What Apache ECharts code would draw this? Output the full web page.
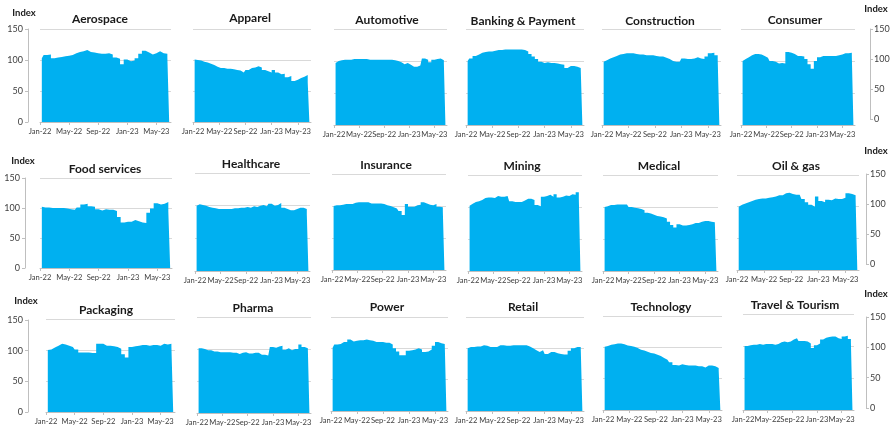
<!DOCTYPE html>
<html>
<head>
<meta charset="utf-8">
<script src="https://cdn.jsdelivr.net/npm/echarts@6/dist/echarts.min.js"></script>
<style>
html,body{margin:0;padding:0;background:#fff;}
#chart{width:895px;height:429px;}
</style>
</head>
<body>
<div id="chart"></div>
<script>
// ---------- DATA ----------
const categories = ['Aerospace','Apparel','Automotive','Banking & Payment','Construction','Consumer',
  'Food services','Healthcare','Insurance','Mining','Medical','Oil & gas',
  'Packaging','Pharma','Power','Retail','Technology','Travel & Tourism'];
// half-monthly periods, Jan-22 .. Jun-23
const xTickLabels = ['Jan-22','May-22','Sep-22','Jan-23','May-23'];
const yAxisTitle = 'Index';

const aerospace    = [103,108,109,103,104,105,106,107,108,111,113,114,116,113,112,111,110,110,111,109,104,102,93,101,98,99,103,110,115,112,109,111,114,111,110,104];
const apparel      = [101,100,99,97,96,94,92,89,87,87,86,86,85,84,83,80,84,87,88,90,88,84,82,80,84,80,77,78,72,74,66,68,71,73,76,64];
const automotive   = [97,100,101,102,102,102,103,103,103,103,103,102,102,102,102,102,102,102,102,101,100,98,95,97,94,91,91,93,104,102,98,102,103,104,101,97];
const banking      = [100,104,108,110,113,114,115,115,116,117,117,118,118,118,118,118,118,117,115,111,107,103,99,97,98,97,97,96,95,94,89,92,92,91,89,87];
const construction = [99,101,104,106,108,110,111,112,112,112,111,110,110,109,109,109,108,107,107,105,103,100,99,99,104,103,103,104,106,104,103,107,112,113,109,103];
const consumer     = [100,103,106,109,111,111,110,108,105,100,99,96,97,96,114,113,111,108,108,107,103,95,88,100,106,108,108,108,108,108,109,110,112,112,113,108];
const foodServices = [102,101,101,100,100,100,100,99,98,97,101,106,107,103,102,98,96,98,97,97,95,85,76,77,77,80,78,76,75,92,99,108,106,107,110,94];
const healthcare   = [100,102,101,100,98,97,96,95,95,95,95,95,96,96,97,97,98,97,99,98,100,101,99,103,100,101,104,97,95,93,93,95,97,97,95,87];
const insurance    = [100,101,101,102,103,103,103,105,106,106,106,106,104,104,104,104,103,101,100,98,96,92,86,103,99,99,101,102,106,104,102,101,103,99,98,92];
const mining       = [102,105,108,109,111,114,115,115,114,117,116,116,117,109,108,108,108,110,113,113,111,103,101,116,117,119,116,120,115,116,118,117,120,119,123,113];
const medical      = [100,101,103,103,104,104,104,104,100,99,98,97,95,91,90,88,86,85,84,82,77,72,68,73,71,71,72,73,75,75,77,78,78,77,76,75];
const oilGas       = [100,103,105,107,109,111,112,113,113,114,115,116,118,118,121,122,120,119,119,112,107,103,100,116,109,107,111,110,113,112,112,114,121,120,118,113];
const packaging    = [100,101,104,107,110,109,107,105,101,96,96,96,95,95,110,110,107,107,106,105,102,93,88,105,106,107,108,108,107,108,108,107,110,109,110,105];
const pharma       = [101,101,100,98,98,96,96,95,95,95,95,94,94,92,94,95,93,93,94,94,91,91,90,103,102,104,105,99,101,98,100,100,107,103,101,100];
const power        = [101,106,107,110,110,114,111,112,113,113,114,113,112,110,110,110,109,109,106,100,95,89,89,96,97,98,100,98,94,95,98,104,110,108,107,109];
const retail       = [100,102,102,103,103,105,104,102,102,102,105,105,104,104,105,105,105,105,105,103,100,97,94,97,91,94,94,92,91,90,90,96,100,102,102,104];
const technology   = [101,102,104,105,106,106,105,103,102,101,99,96,95,93,91,90,88,86,83,80,76,72,71,73,72,71,71,71,70,70,68,71,71,70,67,63];
const travel       = [100,100,101,102,102,103,102,103,103,103,102,103,106,107,106,107,110,112,108,108,107,104,97,101,104,110,113,114,115,115,112,111,115,116,111,106];

const seriesValues = [aerospace, apparel, automotive, banking, construction, consumer,
  foodServices, healthcare, insurance, mining, medical, oilGas,
  packaging, pharma, power, retail, technology, travel];

// ---------- LAYOUT (pixels) ----------
// plot box per panel: [left, right, top(150), bottom(0)]
const PANELS = [
  [40,171,29,122],[193,311,29,122],[334,447,29,125],[466,584,29,125],[602,721,29,125],[741,855,29,125],
  [40,172,178,268],[195,310,173,271],[332,446,174,270],[468,582,175,271],[603,718,175,271],[737,859,175,270],
  [46,175,319,412],[197,311,317,413],[331,448,317,411],[466,584,317,411],[603,722,316,410],[743,854,314,410]
];
// title centers
const TITLE_POS = [
  [100,19],[250,18],[387,20],[523,21],[660,21],[795,20],
  [105,169],[251,164],[386,165],[522,166],[659,166],[796,166],
  [106,310],[253,308],[387,307],[523,307],[661,307],[795,305]
];
// stand-alone value axes: [x, top, bottom, side]
const AXES = [
  [28,29,122,'left'],[871,29,119,'right'],
  [25,178,268,'left'],[867,174,264,'right'],
  [28,320,412,'left'],[867,317,408,'right']
];
const INDEX_POS = [[24,13],[876,9],[23,161],[876,151],[26,301],[876,294]];

const FONT = 'Lato, "Liberation Sans", sans-serif';
const TFONT = 'Lato, "Open Sans", "Liberation Sans", sans-serif';
const BLUE = '#00B0F0';
const GRID_C = '#d9d9d9';
const AXIS_C = '#bfbfbf';
const LABEL_C = '#404040';

const grid = [], xAxis = [], yAxis = [], series = [], graphic = [];
const tickVals = xTickLabels.map((_, k) => k * 8);

PANELS.forEach((p, i) => {
  grid.push({left: p[0], top: p[2], width: p[1] - p[0], height: p[3] - p[2]});
  xAxis.push({
    type: 'value', gridIndex: i, min: 0, max: 36,
    axisLine: {show: true, lineStyle: {color: AXIS_C, width: 1}},
    axisTick: {show: true, customValues: tickVals, length: 3, lineStyle: {color: AXIS_C}},
    axisLabel: {show: true, customValues: tickVals, interval: 0, margin: 6, fontSize: 7.6, fontFamily: FONT, color: LABEL_C,
      showMinLabel: true, showMaxLabel: true, hideOverlap: false,
      formatter: v => xTickLabels[Math.round(v / 8)] || ''},
    splitLine: {show: false}
  });
  yAxis.push({
    type: 'value', gridIndex: i, min: 0, max: 150, interval: 50,
    axisLine: {show: false}, axisTick: {show: false}, axisLabel: {show: false},
    splitLine: {show: true, lineStyle: {color: GRID_C, width: 1}}
  });
  series.push({
    type: 'line', xAxisIndex: i, yAxisIndex: i,
    data: seriesValues[i].map((v, k) => [k + 0.5, v]),
    step: 'middle', symbol: 'none', showSymbol: false, silent: true,
    lineStyle: {width: 1, color: BLUE, opacity: 0},
    areaStyle: {color: BLUE, opacity: 1}
  });
  graphic.push({
    type: 'text', x: TITLE_POS[i][0], y: TITLE_POS[i][1], silent: true,
    style: {text: categories[i], fontSize: 12, fontWeight: 'bold', fontFamily: TFONT,
      fill: '#1a1a1a', align: 'center', verticalAlign: 'middle'}
  });
});

AXES.forEach((a, j) => {
  const gi = PANELS.length + j;
  const right = a[3] === 'right';
  grid.push({left: right ? a[0] - 1 : a[0], top: a[1], width: 1, height: a[2] - a[1]});
  xAxis.push({type: 'value', gridIndex: gi, min: 0, max: 1, show: false});
  yAxis.push({
    type: 'value', gridIndex: gi, min: 0, max: 150, interval: 50, position: a[3],
    axisLine: {show: true, lineStyle: {color: AXIS_C, width: 1}},
    axisTick: {show: true, length: 3, lineStyle: {color: AXIS_C}},
    axisLabel: {show: true, fontSize: 9, fontFamily: TFONT, color: LABEL_C, margin: right ? 3 : 5},
    splitLine: {show: false}
  });
});

INDEX_POS.forEach(p => {
  graphic.push({
    type: 'text', x: p[0], y: p[1], silent: true,
    style: {text: yAxisTitle, fontSize: 9.5, fontWeight: 'bold', fontFamily: TFONT,
      fill: '#1a1a1a', align: 'center', verticalAlign: 'middle'}
  });
});

const chart = echarts.init(document.getElementById('chart'), null, {renderer: 'canvas'});
chart.setOption({
  animation: false,
  backgroundColor: '#ffffff',
  grid, xAxis, yAxis, series, graphic
});
</script>
</body>
</html>
